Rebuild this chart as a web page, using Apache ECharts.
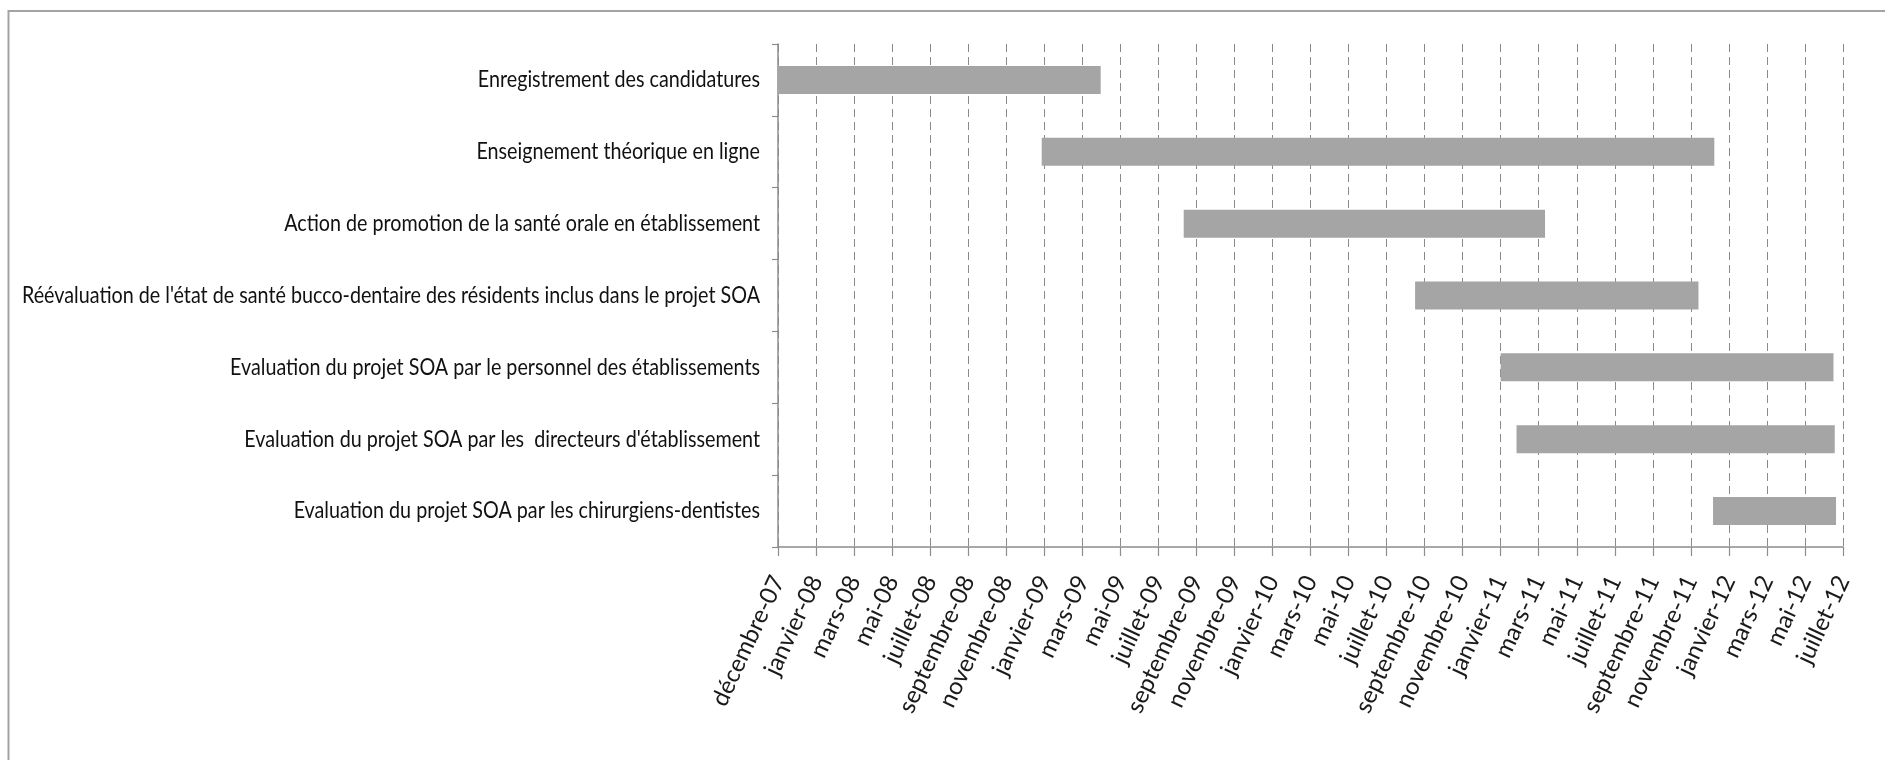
<!DOCTYPE html>
<html>
<head>
<meta charset="utf-8">
<script src="https://cdn.jsdelivr.net/npm/echarts@6/dist/echarts.min.js"></script>
<style>
html,body{margin:0;padding:0;background:#fff;}
#chart{width:1885px;height:760px;}
</style>
</head>
<body>
<div id="chart"></div>
<script>
// Tasks (top to bottom)
const tasks = [
  "Enregistrement des candidatures",
  "Enseignement théorique en ligne",
  "Action de promotion de la santé orale en établissement",
  "Réévaluation de l'état de santé bucco-dentaire des résidents inclus dans le projet SOA",
  "Evaluation du projet SOA par le personnel des établissements",
  "Evaluation du projet SOA par les  directeurs d'établissement",
  "Evaluation du projet SOA par les chirurgiens-dentistes"
];
// Estimated start / end dates of each task
const startDates = ["2007-12-01","2009-01-20","2009-09-01","2010-09-01","2011-01-14","2011-02-08","2011-12-15"];
const endDates   = ["2009-04-23","2011-12-17","2011-03-25","2011-11-22","2012-06-22","2012-06-24","2012-06-26"];
// Axis origin and tick labels (one every 60 days)
const axisOrigin = "2007-12-01";
const tickStepDays = 60;
const tickLabels = ["décembre-07","janvier-08","mars-08","mai-08","juillet-08","septembre-08","novembre-08",
  "janvier-09","mars-09","mai-09","juillet-09","septembre-09","novembre-09",
  "janvier-10","mars-10","mai-10","juillet-10","septembre-10","novembre-10",
  "janvier-11","mars-11","mai-11","juillet-11","septembre-11","novembre-11",
  "janvier-12","mars-12","mai-12","juillet-12"];

function dayOffset(s){
  const p = s.split("-").map(Number), o = axisOrigin.split("-").map(Number);
  return Math.round((Date.UTC(p[0],p[1]-1,p[2]) - Date.UTC(o[0],o[1]-1,o[2]))/86400000);
}
const startVals = startDates.map(dayOffset);
const durVals = endDates.map((e,i)=>dayOffset(e)-startVals[i]);

const LABEL_FONT_SIZE = 23;
const LABEL_FONT = LABEL_FONT_SIZE + "px Lato";
const LABEL_RIGHT = 760, LONGEST_WIDTH = 738;

const chart = echarts.init(document.getElementById('chart'), null, {renderer:'canvas'});
chart.setOption({
  animation:false,
  backgroundColor:'#ffffff',
  grid:{left:778,right:42,top:44,bottom:213,containLabel:false,outerBoundsMode:'none'},
  xAxis:{
    type:'value', min:0, max:tickStepDays*(tickLabels.length-1), interval:tickStepDays,
    axisLine:{show:true,lineStyle:{color:'#8c8c8c',width:1.5}},
    axisTick:{show:true,length:9,lineStyle:{color:'#8c8c8c',width:1.2}},
    splitLine:{show:true,lineStyle:{color:'#8a8a8a',type:[8,5],width:1}},
    axisLabel:{rotate:65, margin:30, padding:[14,0,0,0], fontFamily:'Lato', fontSize:24, color:'#1a1a1a',
      formatter:(v)=>tickLabels[Math.round(v/tickStepDays)] || ''}
  },
  yAxis:{
    type:'category', data:tasks, inverse:true,
    axisLine:{show:true,lineStyle:{color:'#8c8c8c',width:1.5}},
    axisTick:{show:true,length:6,lineStyle:{color:'#8c8c8c',width:1.2}},
    splitLine:{show:false},
    axisLabel:{show:false}
  },
  series:[
    {type:'bar', stack:'g', data:startVals, itemStyle:{color:'transparent'}, barWidth:28, silent:true},
    {type:'bar', stack:'g', data:durVals, itemStyle:{color:'#a5a5a5'}, barWidth:28}
  ]
});

// Category labels: condensed text, drawn at the category positions given by the y axis
const ctx = document.createElement('canvas').getContext('2d');
ctx.font = LABEL_FONT;
const maxW = Math.max(...tasks.map(t=>ctx.measureText(t).width));
const sx = LONGEST_WIDTH / maxW;
const labelGraphics = tasks.map((t,i)=>({
  type:'text', x:LABEL_RIGHT, y:chart.convertToPixel({yAxisIndex:0}, i), scaleX:sx, silent:true,
  style:{text:t, x:0, y:0, align:'right', verticalAlign:'middle', font:LABEL_FONT, fill:'#111'}
}));
chart.setOption({
  graphic:[{type:'rect', shape:{x:8.5,y:11,width:2000,height:1000}, style:{fill:'none',stroke:'#a3a3a3',lineWidth:2}, silent:true}].concat(labelGraphics)
});
</script>
</body>
</html>
